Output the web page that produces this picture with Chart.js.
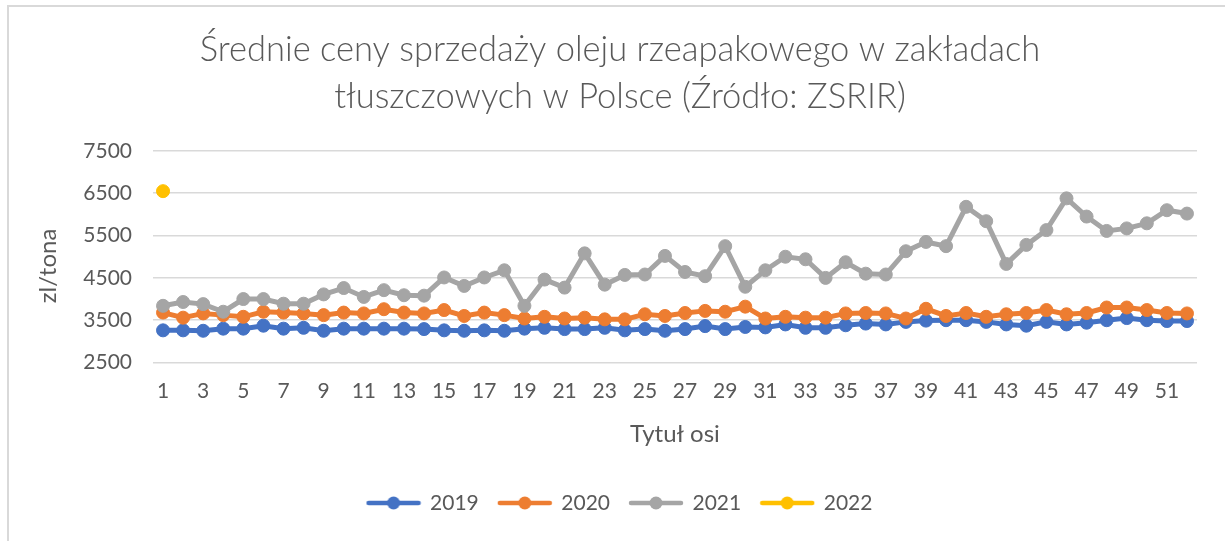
<!DOCTYPE html>
<html>
<head>
<meta charset="utf-8">
<script src="https://cdn.jsdelivr.net/npm/chart.js@4.4.0/dist/chart.umd.min.js"></script>
<style>
  html, body { margin: 0; padding: 0; background: #fff; }
  #frame {
    position: absolute; left: 7px; top: 5px;
    border-left: 2px solid #d9d9d9; border-top: 2px solid #d9d9d9;
  }
  canvas { display: block; }
</style>
</head>
<body>
<div id="frame"><canvas id="myChart" width="1216" height="534"></canvas></div>
<script>
// Weeks of the year (x axis categories)
const weeks = ['1','2','3','4','5','6','7','8','9','10','11','12','13','14','15','16','17','18','19','20',
  '21','22','23','24','25','26','27','28','29','30','31','32','33','34','35','36','37','38','39','40',
  '41','42','43','44','45','46','47','48','49','50','51','52'];

// Average prices, zl/tona
const prices2019 = [3260, 3260, 3250, 3300, 3300, 3370, 3300, 3320, 3250, 3300, 3300, 3300, 3300, 3290,
  3260, 3250, 3260, 3250, 3300, 3320, 3290, 3290, 3320, 3260, 3290, 3250, 3290, 3360, 3290, 3340,
  3330, 3400, 3320, 3320, 3380, 3420, 3400, 3460, 3490, 3500, 3500, 3460, 3400, 3370, 3460, 3400,
  3440, 3500, 3550, 3500, 3480, 3480];
const prices2020 = [3680, 3560, 3660, 3620, 3580, 3700, 3680, 3660, 3620, 3680, 3660, 3760, 3680, 3660,
  3740, 3600, 3680, 3620, 3540, 3580, 3540, 3560, 3520, 3520, 3640, 3600, 3670, 3720, 3700, 3820,
  3540, 3580, 3560, 3560, 3660, 3670, 3660, 3540, 3770, 3600, 3670, 3580, 3640, 3670, 3740, 3640,
  3670, 3800, 3800, 3740, 3670, 3660];
const prices2021 = [3840, 3930, 3880, 3700, 4000, 4000, 3890, 3890, 4110, 4260, 4050, 4210, 4090, 4080,
  4510, 4310, 4510, 4680, 3840, 4460, 4270, 5080, 4340, 4570, 4580, 5020, 4640, 4540, 5250, 4290,
  4680, 5000, 4940, 4500, 4870, 4600, 4580, 5130, 5350, 5250, 6180, 5840, 4830, 5280, 5630, 6380,
  5950, 5610, 5670, 5790, 6100, 6020];
const prices2022 = [6550];

const seriesNames = ['2019', '2020', '2021', '2022'];
const seriesColors = ['#4472C4', '#ED7D31', '#A5A5A5', '#FFC000'];

const textColor = '#595959';
const fontFamily = 'Lato, "Open Sans", sans-serif';

// legend swatch: short line with a dot in the middle, like Excel
function legendMarker(color) {
  const c = document.createElement('canvas');
  c.width = 56;
  c.height = 14;
  const g = c.getContext('2d');
  g.strokeStyle = color;
  g.lineWidth = 4.5;
  g.lineCap = 'round';
  g.beginPath();
  g.moveTo(3, 7);
  g.lineTo(53, 7);
  g.stroke();
  g.fillStyle = color;
  g.beginPath();
  g.arc(28, 7, 6.5, 0, Math.PI * 2);
  g.fill();
  return c;
}
const markers = seriesColors.map(legendMarker);

function makeSet(i, values) {
  return {
    label: seriesNames[i],
    data: values,
    borderColor: seriesColors[i],
    backgroundColor: seriesColors[i],
    borderWidth: 5,
    pointRadius: 6.5,
    pointBorderWidth: 1,
    pointBackgroundColor: seriesColors[i],
    pointBorderColor: seriesColors[i],
    tension: 0,
    order: 4 - i // later years drawn on top
  };
}

const ctx = document.getElementById('myChart').getContext('2d');
const myChart = new Chart(ctx, {
  type: 'line',
  data: {
    labels: weeks,
    datasets: [
      makeSet(0, prices2019),
      makeSet(1, prices2020),
      makeSet(2, prices2021),
      makeSet(3, prices2022)
    ]
  },
  options: {
    responsive: false,
    animation: false,
    layout: { padding: { left: 34, right: 28, top: 0, bottom: 17.5 } },
    plugins: {
      tooltip: { enabled: false },
      title: {
        display: true,
        text: ['Średnie ceny sprzedaży oleju rzeapakowego w zakładach', 'tłuszczowych w Polsce (Źródło: ZSRIR)'],
        color: textColor,
        font: { family: fontFamily, size: 34.5, weight: '300', lineHeight: 1.362 },
        padding: { top: 19.5, bottom: 30.5 }
      },
      legend: {
        position: 'bottom',
        labels: {
          usePointStyle: true,
          pointStyleWidth: 52,
          padding: 20,
          color: textColor,
          font: { family: fontFamily, size: 21 },
          generateLabels: (chart) => chart.data.datasets.map((ds, i) => ({
            text: ds.label,
            pointStyle: markers[i],
            fillStyle: ds.borderColor,
            strokeStyle: ds.borderColor,
            lineWidth: 0,
            fontColor: textColor,
            hidden: false,
            datasetIndex: i
          }))
        }
      }
    },
    scales: {
      x: {
        offset: true,
        grid: { display: false, drawTicks: false },
        border: { display: false },
        ticks: {
          color: textColor,
          font: { family: fontFamily, size: 21 },
          padding: 16,
          maxRotation: 0,
          autoSkip: false,
          callback: function (value, index) {
            return index % 2 === 0 ? this.getLabelForValue(value) : '';
          }
        },
        title: {
          display: true,
          text: 'Tytuł osi',
          color: textColor,
          font: { family: fontFamily, size: 24 },
          padding: { top: 0, bottom: 24 }
        }
      },
      y: {
        min: 2500,
        max: 7500,
        grid: { color: '#d9d9d9', lineWidth: 1.6, drawTicks: false },
        border: { display: false },
        ticks: {
          stepSize: 1000,
          color: textColor,
          font: { family: fontFamily, size: 21 },
          padding: 21,
          callback: (v) => String(v)
        },
        title: {
          display: true,
          text: 'zl/tona   ',
          color: textColor,
          font: { family: fontFamily, size: 24 },
          padding: { top: -9, bottom: 0 }
        },
        afterFit: (scale) => { scale.width = 110; }
      }
    }
  }
});
</script>
</body>
</html>
